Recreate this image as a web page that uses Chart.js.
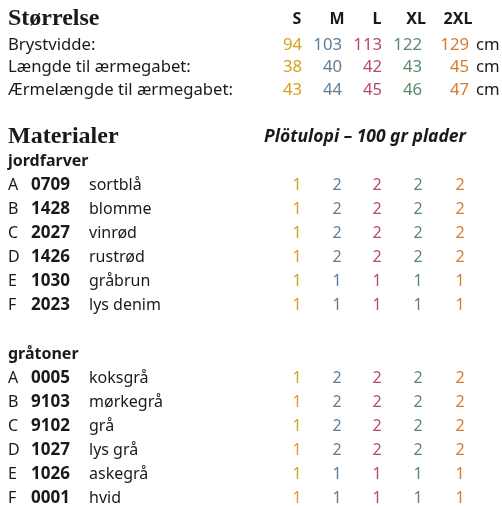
<!DOCTYPE html>
<html><head><meta charset="utf-8">
<script src="https://cdn.jsdelivr.net/npm/chart.js@4"></script>
<style>html,body{margin:0;padding:0;background:#fff}#w{width:502px;height:506px}</style>
</head><body><div id="w"><canvas id="c"></canvas></div>
<script>
const sizes = ["S","M","L","XL","2XL"];
const sizeColors = ["#d4a21c","#5f7d97","#b8486f","#5b8a68","#d97a2c"];
const measureLabels = ["Brystvidde:","Længde til ærmegabet:","Ærmelængde til ærmegabet:"];
const brystvidde = [94,103,113,122,129];
const laengde = [38,40,42,43,45];
const aermelaengde = [43,44,45,46,47];
const group1Letters = ["A","B","C","D","E","F"];
const group1Codes = ["0709","1428","2027","1426","1030","2023"];
const group1Names = ["sortblå","blomme","vinrød","rustrød","gråbrun","lys denim"];
const group1Amounts = [[1,2,2,2,2],[1,2,2,2,2],[1,2,2,2,2],[1,2,2,2,2],[1,1,1,1,1],[1,1,1,1,1]];
const group2Codes = ["0005","9103","9102","1027","1026","0001"];
const group2Names = ["koksgrå","mørkegrå","grå","lys grå","askegrå","hvid"];
const group2Amounts = [[1,2,2,2,2],[1,2,2,2,2],[1,2,2,2,2],[1,2,2,2,2],[1,1,1,1,1],[1,1,1,1,1]];

// layout
const colX = [297,337,377,418,460];
const measureRight = [302,342,382,422,469];
const sans = '"Noto Sans",sans-serif';
const serif = '"Liberation Serif","DejaVu Serif",serif';
const ink = "#1a1a1a";

const pts = [];
const measures=[brystvidde,laengde,aermelaengde];
measures.forEach((row,r)=>row.forEach((v,i)=>pts.push({x:colX[i],y:45+r*22.5})));

const tablePlugin = {
  id:'table',
  afterDraw(chart){
    const ctx=chart.ctx, X=chart.scales.x, Y=chart.scales.y;
    const px=v=>X.getPixelForValue(v), py=v=>Y.getPixelForValue(v);
    function t(s,x,y,font,color,align){ctx.font=font;ctx.fillStyle=color||ink;ctx.textAlign=align||'left';ctx.textBaseline='middle';ctx.fillText(s,px(x),py(y));}
    ctx.save();
    t("Størrelse",8,19,"bold 24px "+serif);
    sizes.forEach((s,i)=>t(s,colX[i]+ (i>=3?-2:0),19,"bold 16px "+sans,ink,'center'));
    measureLabels.forEach((l,r)=>{
      const y=45+r*22.5;
      t(l,8,y,"16.7px "+sans);
      measures[r].forEach((v,i)=>t(String(v),measureRight[i],y,"16.7px "+sans,sizeColors[i],'right'));
      t("cm",476,y,"16.7px "+sans);
    });
    t("Materialer",8,137,"bold 24px "+serif);
    t("Plötulopi – 100 gr plader",466,137,"italic bold 17.5px "+sans,ink,'right');
    function group(title,y0,letters,codes,names,amts){
      t(title,8,y0,"bold 16px "+sans);
      codes.forEach((c,r)=>{
        const y=y0+24+r*24;
        t(letters[r],8,y,"16px "+sans);
        t(c,31,y,"bold 17px "+sans);
        t(names[r],89,y,"16px "+sans);
        amts[r].forEach((v,i)=>t(String(v),colX[i],y,"16px "+sans,sizeColors[i],'center'));
      });
    }
    group("jordfarver",161,group1Letters,group1Codes,group1Names,group1Amounts);
    group("gråtoner",354,group1Letters,group2Codes,group2Names,group2Amounts);
    ctx.restore();
  }
};

new Chart(document.getElementById('c'),{
  type:'scatter',
  data:{datasets:[{data:pts,pointRadius:0}]},
  options:{responsive:true,maintainAspectRatio:false,animation:false,
    layout:{padding:0},
    plugins:{legend:{display:false},tooltip:{enabled:false}},
    scales:{x:{type:'linear',min:0,max:502,display:false},y:{type:'linear',min:0,max:506,reverse:true,display:false}}},
  plugins:[tablePlugin]
});
</script></body></html>
